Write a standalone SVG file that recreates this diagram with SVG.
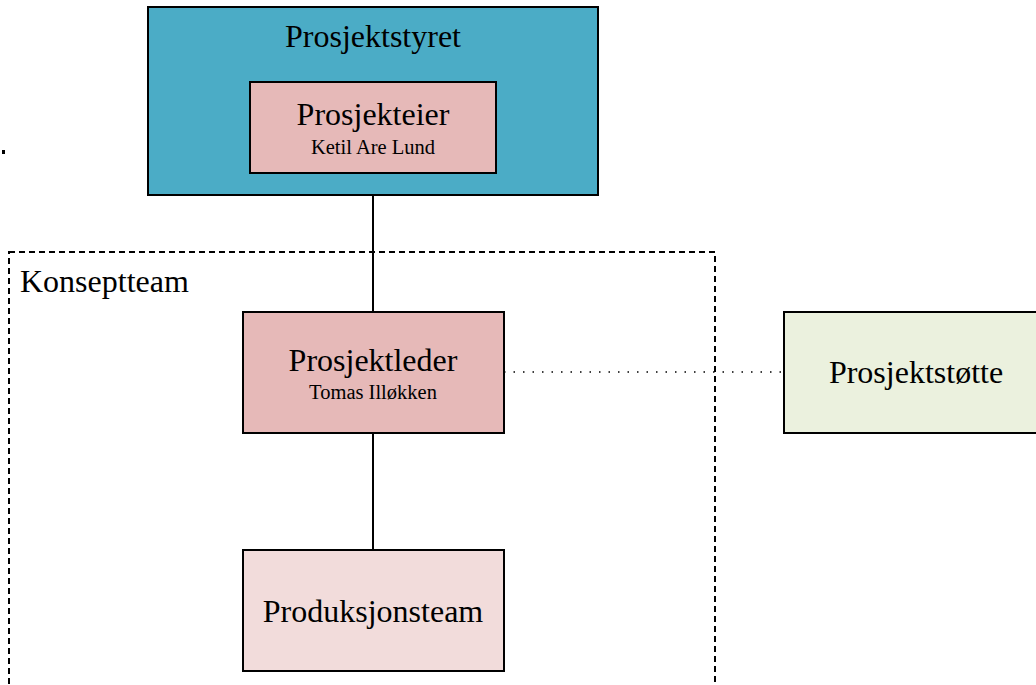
<svg xmlns="http://www.w3.org/2000/svg" width="1036" height="685" viewBox="0 0 1036 685">
<style>
.box{stroke:#000;stroke-width:2}
.t{font-family:"Liberation Serif","Times New Roman",serif;fill:#000;text-anchor:middle}
.big{font-size:32px}
.small{font-size:20.5px}
.line{stroke:#000;stroke-width:2;fill:none}
</style>
<rect x="0" y="0" width="1036" height="685" fill="#fff"/>
<g id="konseptteam">
<rect x="9" y="252" width="706" height="460" fill="none" stroke="#000" stroke-width="2" stroke-dasharray="6,4"/>
<text x="20" y="292" class="t big" style="text-anchor:start">Konseptteam</text>
</g>
<g id="prosjektstyret">
<rect x="148" y="7" width="450" height="188" fill="#4BACC6" class="box"/>
<text x="373" y="47" class="t big">Prosjektstyret</text>
</g>
<g id="prosjekteier">
<rect x="250" y="82" width="246" height="91" fill="#E6B9B8" class="box"/>
<text x="373" y="125" class="t big">Prosjekteier</text>
<text x="373" y="154" class="t small">Ketil Are Lund</text>
</g>
<g id="connectors">
<line x1="373" y1="195" x2="373" y2="312" class="line"/>
<line x1="373" y1="433" x2="373" y2="550" class="line"/>
<line x1="504" y1="372" x2="784" y2="372" stroke="#000" stroke-width="1.5" stroke-dasharray="1.5,8" fill="none"/>
</g>
<g id="prosjektleder">
<rect x="243" y="312" width="261" height="121" fill="#E6B9B8" class="box"/>
<text x="373" y="371" class="t big">Prosjektleder</text>
<text x="373" y="399" class="t small">Tomas Illøkken</text>
</g>
<g id="produksjonsteam">
<rect x="243" y="550" width="261" height="121" fill="#F2DCDB" class="box"/>
<text x="373" y="622" class="t big">Produksjonsteam</text>
</g>
<g id="prosjektstotte">
<rect x="784" y="312" width="260" height="121" fill="#EBF1DE" class="box"/>
<text x="916" y="383" class="t big">Prosjektstøtte</text>
</g>
<rect x="2" y="150" width="3" height="4" fill="#000"/>
</svg>
